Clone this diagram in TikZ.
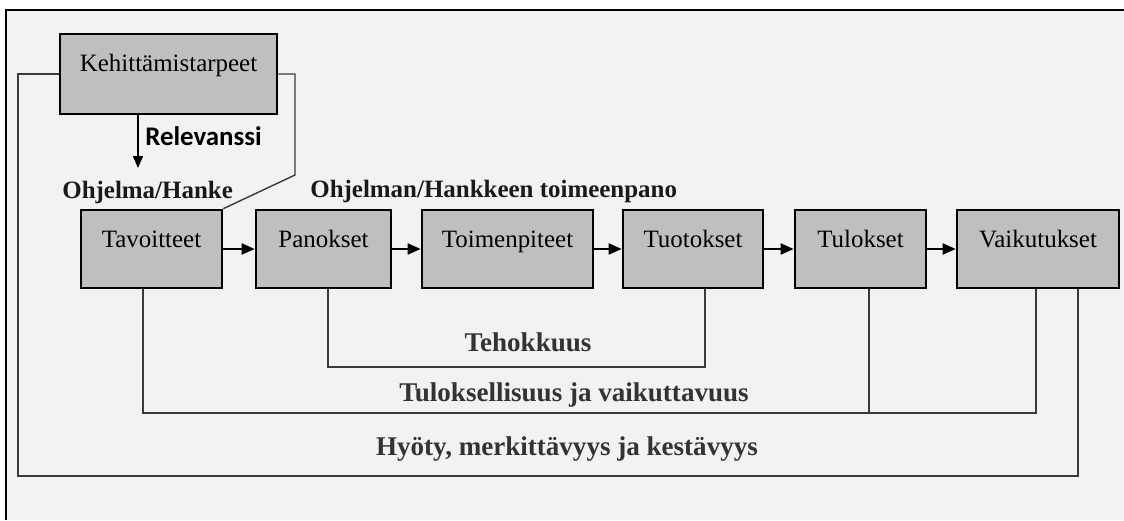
\documentclass[tikz,border=0pt]{standalone}
\usepackage{fontspec}
\setmainfont{Liberation Serif}
\newfontfamily\califont{Carlito}
\usetikzlibrary{positioning,arrows.meta}
\definecolor{boxgray}{HTML}{BFBFBF}
\definecolor{panelgray}{HTML}{F2F2F2}
\definecolor{linegray}{HTML}{3A3A3A}
\tikzset{
  box/.style={draw, line width=1.5pt, fill=boxgray, inner sep=0pt,
    minimum height=1.56cm, text height=0.75cm, text depth=0.81cm,
    font=\fontsize{14.2}{17}\selectfont},
  flow/.style={line width=1pt, -{Triangle[length=0.26cm,width=0.22cm]}},
  link/.style={line width=0.8pt, color=linegray},
  toplabel/.style={inner sep=0pt, font=\bfseries\fontsize{14.2}{17}\selectfont, text=black!90},
  critlabel/.style={font=\bfseries\fontsize{15.4}{18}\selectfont, text=black!80},
}
\begin{document}
\begin{tikzpicture}[x=0.02cm, y=-0.02cm]

\useasboundingbox (0,0) rectangle (1124,520) ;
\fill [white] (0,0) rectangle (1124,520) ;
\fill [panelgray] (6,10) rectangle (1124,520) ;
\draw [line width=1.7pt] (6,520) -- (6,10) -- (1124,10) ;

\node (keh) at (168.5,74) [box, minimum width=4.34cm, minimum height=1.6cm, text height=0.76cm, text depth=0.84cm] {Kehittämistarpeet} ;
\node (tav) at (151.5,249) [box, minimum width=2.82cm] {Tavoitteet} ;
\node (pan) at (323.5,249) [box, minimum width=2.7cm] {Panokset} ;
\node (toi) at (507.5,249) [box, minimum width=3.42cm] {Toimenpiteet} ;
\node (tuo) at (693,249) [box, minimum width=2.8cm] {Tuotokset} ;
\node (tul) at (860.5,249) [box, minimum width=2.62cm] {Tulokset} ;
\node (vai) at (1038,249) [box, minimum width=3.24cm] {Vaikutukset} ;

\draw [flow] (tav.east) -- (pan.west) ;
\draw [flow] (pan.east) -- (toi.west) ;
\draw [flow] (toi.east) -- (tuo.west) ;
\draw [flow] (tuo.east) -- (tul.west) ;
\draw [flow] (tul.east) -- (vai.west) ;

\coordinate (relend) at (138,168) ;
\draw [line width=0.8pt, -{Triangle[length=0.24cm,width=0.2cm]}] (138,0 |- keh.south) -- (relend) ;
\node (relevanssi) at (145,146) [anchor=base west, inner sep=0pt, font=\califont\bfseries\fontsize{15.3}{18}\selectfont] {Relevanssi} ;
\node (ohjelma) at (62,198) [anchor=base west, toplabel] {Ohjelma/Hanke} ;
\node (toimeenpano) at (310,197) [anchor=base west, toplabel] {Ohjelman/Hankkeen toimeenpano} ;

\draw [link] (keh.east) -- (295,0 |- keh.east) -- (295,175) -- (tav.north east) ;
\draw [link] (keh.west) -| (18,476) -| (1078,0 |- vai.south) ;
\draw [link] (328,0 |- pan.south) |- (705,367) -- (705,0 |- tuo.south) ;
\draw [link] (143,0 |- tav.south) |- (1036,413) -- (1036,0 |- vai.south) ;
\draw [link] (869,0 |- tul.south) -- (869,413) ;

\node (tehokkuus) at (528,351) [anchor=base, critlabel] {Tehokkuus} ;
\node (tuloksellisuus) at (574,401) [anchor=base, critlabel] {Tuloksellisuus ja vaikuttavuus} ;
\node (hyoty) at (567,455) [anchor=base, critlabel] {Hyöty, merkittävyys ja kestävyys} ;
\end{tikzpicture}
\end{document}
